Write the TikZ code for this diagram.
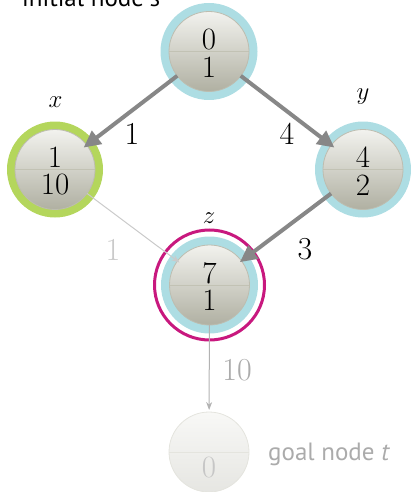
\documentclass[tikz,border=0pt]{standalone}
\usepackage{fontspec}
\newfontfamily\labelsans{PT Sans}
\usetikzlibrary{arrows.meta}
\definecolor{ringblue}{HTML}{ADDDE3}
\definecolor{ringgreen}{HTML}{B4D65C}
\definecolor{ringmag}{HTML}{C8187E}
\definecolor{edgedark}{HTML}{878787}
\definecolor{edgelight}{HTML}{CACACA}
\definecolor{edgemid}{HTML}{B2B2B2}
\definecolor{balltop}{HTML}{F2F2EE}
\definecolor{ballbot}{HTML}{B0B0A2}
\definecolor{ballrim}{HTML}{BDBDB0}
\definecolor{ballline}{HTML}{C2C2B4}
\definecolor{fadetop}{HTML}{F8F8F6}
\definecolor{fadebot}{HTML}{E6E6E2}
\definecolor{faderim}{HTML}{E4E4DE}
\definecolor{fadetext}{HTML}{C6C6C6}
\definecolor{graytext}{HTML}{ABABAB}
\newcommand{\topstrut}{\rule{0pt}{23.6pt}}
\begin{document}
\begin{tikzpicture}[x=1pt,y=-1pt,
  ball/.style={circle, minimum size=80pt, inner sep=0pt, outer sep=0pt,
    draw=ballrim, line width=0.8pt, top color=balltop, bottom color=ballbot,
    align=center, font=\fontsize{31}{27.5}\selectfont,
    path picture={\draw[ballline, line width=0.8pt] (path picture bounding box.west) -- (path picture bounding box.east);}},
  fadeball/.style={ball, draw=faderim, top color=fadetop, bottom color=fadebot, text=fadetext,
    path picture={\draw[faderim, line width=0.8pt] (path picture bounding box.west) -- (path picture bounding box.east);}},
  numlabel/.style={font=\fontsize{32}{32}\selectfont, inner sep=0pt},
  namelabel/.style={font=\fontsize{31}{31}\selectfont, inner sep=0pt},
  sanslabel/.style={font=\labelsans\fontsize{25}{25}\selectfont, inner sep=0pt},
  thickedge/.style={draw=edgedark, line width=4pt, -{Triangle[length=17pt,width=16pt]}},
  thinedge/.style={line width=1pt, -{Stealth[length=8pt,width=6pt]}}
]
\useasboundingbox (0,0) rectangle (411,492);

% rings
\coordinate (S) at (209,51.5);
\coordinate (X) at (55,169.5);
\coordinate (Y) at (363,169.5);
\coordinate (Z) at (209.5,285);
\coordinate (T) at (209,452);
\fill[ringblue] (S) circle (48.5pt);
\fill[ringgreen] (X) circle (48pt);
\fill[ringblue] (Y) circle (48pt);
\draw[ringmag, line width=3pt] (Z) circle (55pt);
\fill[ringblue] (Z) circle (48.5pt);

% nodes
\node[ball] (s) at (S) {\topstrut0\\1};
\node[ball] (x) at (X) {\topstrut1\\10};
\node[ball] (y) at (Y) {\topstrut4\\2};
\node[ball] (z) at (Z) {\topstrut7\\1};
\node[fadeball] (t) at (T) {\topstrut\\0};

% names
\node[sanslabel, anchor=base west] (initlab) at (22,7) {initial node \textit{s}};
\node[namelabel] (xlab) at (55.5,102) {$x$};
\node[namelabel] (ylab) at (363,97) {$y$};
\node[namelabel] (zlab) at (209,218) {$z$};
\node[sanslabel, anchor=base west, text=graytext] (goallab) at (268,460) {goal node \textit{t}};

% edges
\draw[thickedge, shorten >=-4pt] (s) -- (x);
\draw[thickedge, shorten >=-4pt] (s) -- (y);
\draw[thickedge, shorten >=-2pt] (y) -- (z);
\draw[thinedge, edgelight, shorten >=-2.5pt] (x) -- (z);
\draw[thinedge, edgemid, shorten >=2pt] (z) -- (t);

% edge labels
\node[numlabel] (l1) at (132,134) {1};
\node[numlabel] (l4) at (287,134) {4};
\node[numlabel] (l3) at (305,249) {3};
\node[numlabel, text=edgelight] (l1b) at (113,250) {1};
\node[numlabel, text=graytext] (l10) at (237,370) {10};
\end{tikzpicture}
\end{document}
